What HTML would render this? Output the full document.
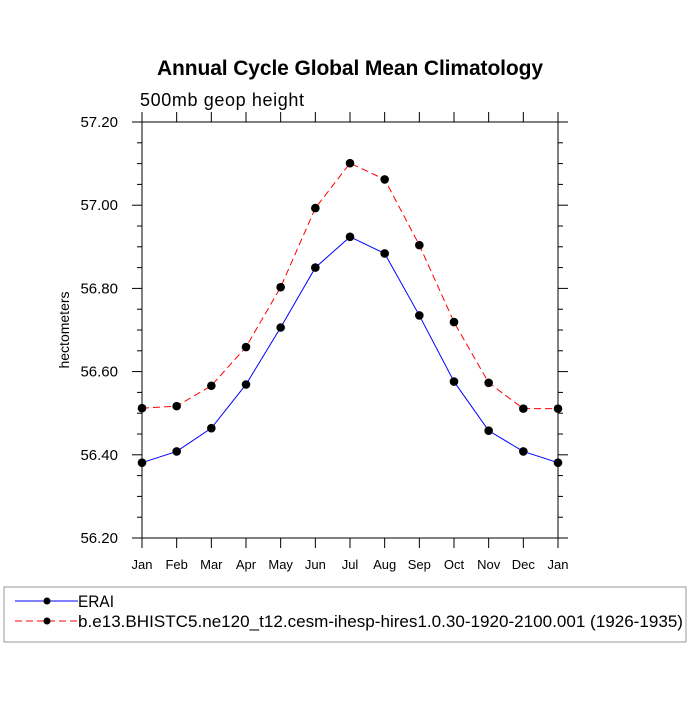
<!DOCTYPE html>
<html><head><meta charset="utf-8"><style>body{margin:0;background:#fff}svg{font-family:"Liberation Sans",sans-serif}</style></head>
<body>
<svg id="c" width="700" height="700">
<text x="350" y="75" text-anchor="middle" font-size="21" font-weight="bold" textLength="386">Annual Cycle Global Mean Climatology</text>
<text x="140" y="106" font-size="18" textLength="164">500mb geop height</text>
<text transform="translate(69,330) rotate(-90)" text-anchor="middle" font-size="14">hectometers</text>
<g id="plot"></g>
<rect x="4" y="587" width="682" height="55" fill="none" stroke="#999"/>
<g id="legend"></g>
</svg>
<script>
const months = ["Jan","Feb","Mar","Apr","May","Jun","Jul","Aug","Sep","Oct","Nov","Dec","Jan"];
const erai = [56.381,56.408,56.464,56.569,56.706,56.850,56.924,56.884,56.735,56.576,56.458,56.408,56.381];
const model = [56.512,56.517,56.566,56.659,56.803,56.993,57.101,57.062,56.904,56.719,56.573,56.511,56.511];
const yTicks = [56.2,56.4,56.6,56.8,57.0,57.2];
const seriesNames = ["ERAI","b.e13.BHISTC5.ne120_t12.cesm-ihesp-hires1.0.30-1920-2100.001 (1926-1935)"];
const L=142,R=558,T=122,B=538,ymin=56.2,ymax=57.2;
const xs=i=>L+(R-L)*i/(months.length-1);
const ys=v=>B-(v-ymin)/(ymax-ymin)*(B-T);
const NS="http://www.w3.org/2000/svg";
const g=document.getElementById('plot');
function mk(t,a,p){const e=document.createElementNS(NS,t);for(const k in a)e.setAttribute(k,a[k]);(p||g).appendChild(e);return e;}
const fr=mk('rect',{x:L,y:T,width:R-L,height:B-T,fill:'none',stroke:'#000','stroke-width':1});


for(let v=ymin;v<=ymax+1e-9;v+=0.05){const maj=Math.abs(Math.round(v*5)-v*5)<1e-6;const len=maj?10:5;const y=ys(v);
 mk('line',{x1:L-len,x2:L,y1:y,y2:y,stroke:'#000'});mk('line',{x1:R,x2:R+len,y1:y,y2:y,stroke:'#000'});}
yTicks.forEach(v=>{const t=mk('text',{x:L-24,y:ys(v)+5,'text-anchor':'end','font-size':15});t.textContent=v.toFixed(2);

});
months.forEach((m,i)=>{const x=xs(i);mk('line',{x1:x,x2:x,y1:B,y2:B+10,stroke:'#000'});mk('line',{x1:x,x2:x,y1:T-10,y2:T,stroke:'#000'});
 const t=mk('text',{x:x,y:B+31,'text-anchor':'middle','font-size':13});t.textContent=m;

});
function series(d,col,dash,name){const p=mk('polyline',{points:d.map((v,i)=>xs(i)+','+ys(v)).join(' '),fill:'none',stroke:col,'stroke-width':1,'stroke-dasharray':dash});


d.forEach((v,i)=>{const c=mk('circle',{cx:xs(i),cy:ys(v),r:4.3,fill:'#000'});

});}
series(model,'#f00','7,4','model');
series(erai,'#00f','none','erai');
const lg=document.getElementById('legend');
const tl=[36,605];
[[601,'#00f','none'],[621,'#f00','7,4']].forEach((r,k)=>{
 const l=mk('line',{x1:15,x2:78,y1:r[0],y2:r[0],stroke:r[1],'stroke-dasharray':r[2]},lg);
 
 
 mk('circle',{cx:47,cy:r[0],r:3.5,fill:'#000'},lg);
 const t=mk('text',{x:78,y:r[0]+6,'font-size':17,textLength:tl[k],lengthAdjust:'spacingAndGlyphs'},lg);t.textContent=seriesNames[k];
 
 
});
</script>
</body></html>
